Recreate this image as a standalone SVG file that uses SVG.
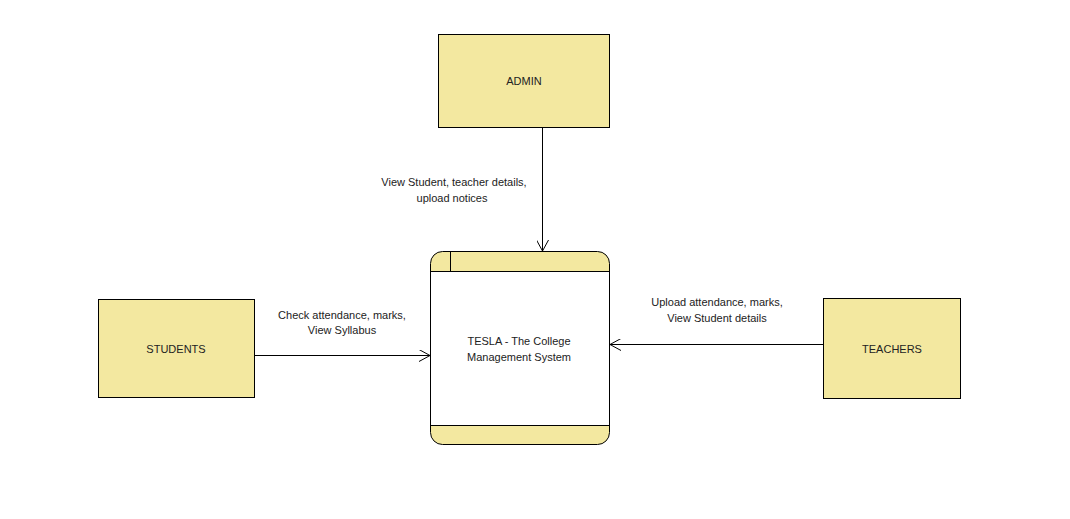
<svg xmlns="http://www.w3.org/2000/svg" width="1070" height="519" viewBox="0 0 1070 519">
<style>
.ent{fill:#f3e8a0;stroke:#000;stroke-width:1}
.t{font-family:"Liberation Sans",Arial,sans-serif;font-size:11px;fill:#222;text-anchor:middle}
.c{stroke:#000;stroke-width:1;fill:none}
</style>
<defs>
<marker id="arr" markerWidth="12" markerHeight="12" refX="11" refY="6" orient="auto" markerUnits="userSpaceOnUse">
<path d="M0,0 L11,6 L0,12" fill="none" stroke="#000" stroke-width="1"/>
</marker>
</defs>
<rect width="1070" height="519" fill="#fff"/>
<g id="admin">
<rect class="ent" x="438.5" y="34.5" width="171" height="93"/>
<text class="t" x="524" y="85">ADMIN</text>
</g>
<g id="students">
<rect class="ent" x="98.5" y="299.5" width="156" height="98"/>
<text class="t" x="176" y="353">STUDENTS</text>
</g>
<g id="teachers">
<rect class="ent" x="823.5" y="298.5" width="137" height="100"/>
<text class="t" x="892" y="353">TEACHERS</text>
</g>
<g id="system">
<clipPath id="pc"><rect x="430.5" y="251.5" width="179" height="193" rx="12"/></clipPath>
<g clip-path="url(#pc)">
<rect x="430.5" y="251.5" width="179" height="193" fill="#fff"/>
<rect x="430.5" y="251.5" width="179" height="20" fill="#f3e8a0"/>
<rect x="430.5" y="425.5" width="179" height="19" fill="#f3e8a0"/>
</g>
<rect x="430.5" y="251.5" width="179" height="193" rx="12" fill="none" stroke="#000"/>
<line x1="430.5" y1="271.5" x2="609.5" y2="271.5" stroke="#000"/>
<line x1="430.5" y1="425.5" x2="609.5" y2="425.5" stroke="#000"/>
<line x1="450.5" y1="251.5" x2="450.5" y2="271.5" stroke="#000"/>
<text class="t" x="519" y="345">TESLA - The College</text>
<text class="t" x="519" y="361">Management System</text>
</g>
<g id="connectors">
<line class="c" x1="542.5" y1="128" x2="542.5" y2="251" marker-end="url(#arr)"/>
<line class="c" x1="255" y1="355.5" x2="430" y2="355.5" marker-end="url(#arr)"/>
<line class="c" x1="823" y1="344.5" x2="610" y2="344.5" marker-end="url(#arr)"/>
<text class="t" x="454" y="186">View Student, teacher details,</text>
<text class="t" x="452" y="202">upload notices</text>
<text class="t" x="342" y="319">Check attendance, marks,</text>
<text class="t" x="342" y="334">View Syllabus</text>
<text class="t" x="717" y="306">Upload attendance, marks,</text>
<text class="t" x="717" y="322">View Student details</text>
</g>
</svg>
